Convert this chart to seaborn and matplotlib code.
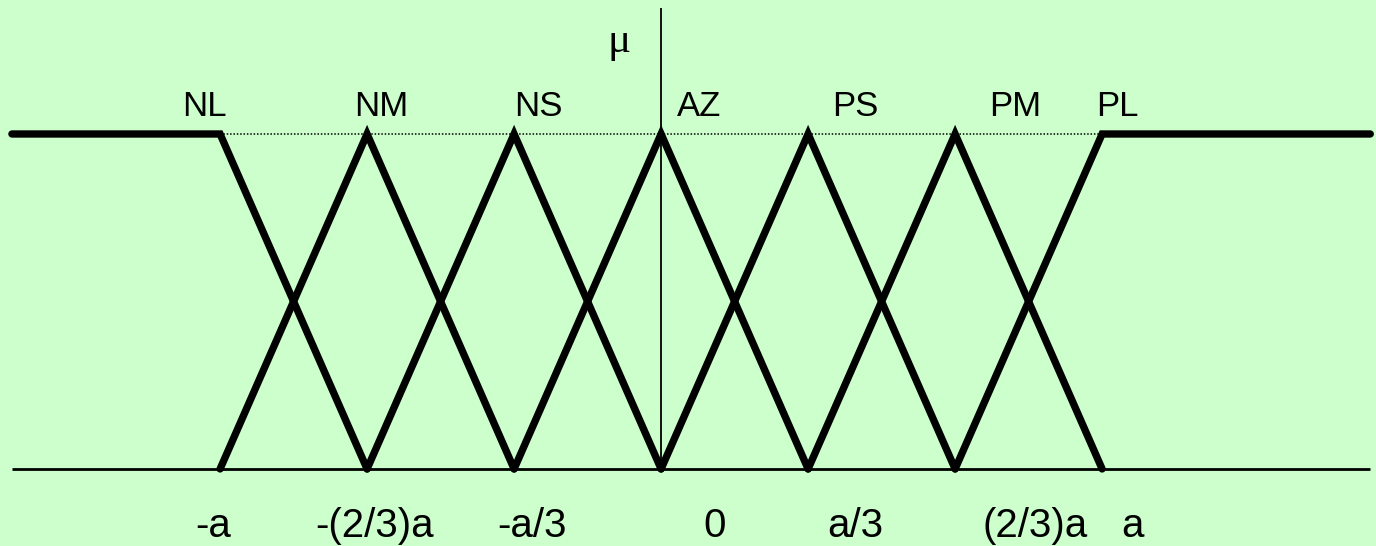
import numpy as np
import matplotlib.pyplot as plt
import seaborn as sns

# fuzzy sets (peaks in units of a)
set_names = ['NL', 'NM', 'NS', 'AZ', 'PS', 'PM', 'PL']
peaks = [-1, -2/3, -1/3, 0, 1/3, 2/3, 1]
tick_vals = [-1, -2/3, -1/3, 0, 1/3, 2/3, 1]
tick_text = ['-a', '-(2/3)a', '-a/3', '0', 'a/3', '(2/3)a', 'a']
x_left, x_right = -1.472, 1.608

sns.set_theme(style='white')
plt.rcParams['font.family'] = ['Liberation Sans', 'DejaVu Sans']
plt.rcParams['text.color'] = 'black'

bg = '#ccffcc'
fig = plt.figure(figsize=(13.76, 5.46), dpi=100, facecolor=bg)
ax = fig.add_axes([0, 0, 1, 1])
ax.set_facecolor(bg)
ax.set_xlim(-1.499, 1.621)
ax.set_ylim(-0.23, 1.40)
ax.axis('off')

step = peaks[1] - peaks[0]
for i, (name, p) in enumerate(zip(set_names, peaks)):
    if i == 0:
        xs, ys = [x_left, p, p + step], [1, 1, 0]
    elif i == len(peaks) - 1:
        xs, ys = [p - step, p, x_right], [0, 1, 1]
    else:
        xs, ys = [p - step, p, p + step], [0, 1, 0]
    sns.lineplot(x=xs, y=ys, sort=False, estimator=None, color='black',
                 linewidth=5.3, ax=ax, solid_joinstyle='miter')

# dotted level at mu = 1, baseline and mu axis
ax.hlines(1, peaks[0], peaks[-1], colors='black', linestyles=(0, (1, 1.2)), linewidth=1.1)
ax.hlines(0, x_left, x_right, colors='black', linewidth=2)
ax.vlines(0, 0, 1.376, colors='black', linewidth=1.3)

# set names above the peaks (slightly shifted like the original slide)
name_shift = [-0.036, 0.032, 0.054, 0.086, 0.108, 0.136, 0.034]
for name, p, s in zip(set_names, peaks, name_shift):
    ax.text(p + s, 1.054, name, ha='center', va='baseline', fontsize=25)

ax.text(-0.095, 1.245, 'μ', ha='center', va='baseline', fontsize=31,
        family=['Liberation Serif', 'DejaVu Serif'])

tick_shift = [-0.016, 0.016, 0.040, 0.122, 0.107, 0.181, 0.070]
for v, t, s in zip(tick_vals, tick_text, tick_shift):
    ax.text(v + s, -0.203, t, ha='center', va='baseline', fontsize=29)

fig.savefig('out.png', dpi=100, facecolor=bg)
